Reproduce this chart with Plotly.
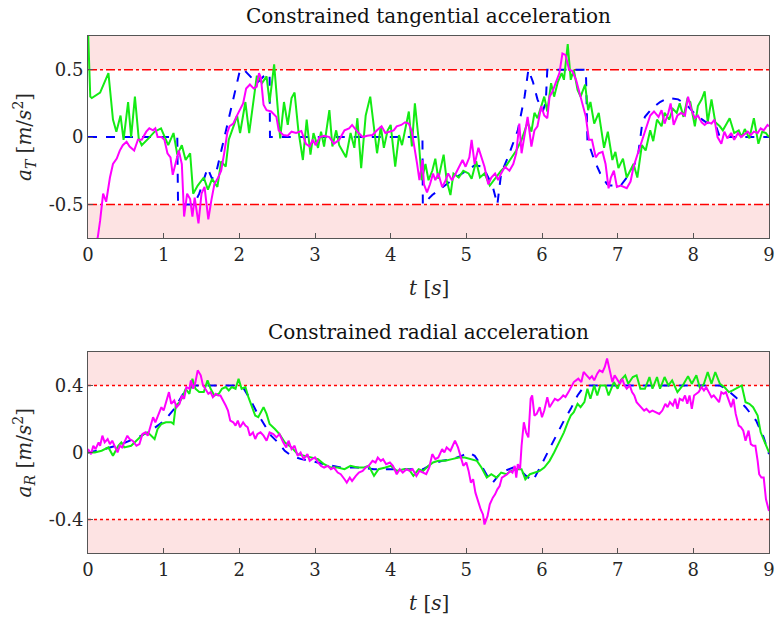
import plotly.graph_objects as go
from plotly.subplots import make_subplots

# ---------------- Tangential acceleration (top) ----------------
tT_green = [0, 0.03, 0.05, 0.16, 0.27, 0.33, 0.375, 0.43, 0.47, 0.53, 0.57, 0.62, 0.67, 0.71, 0.8, 0.88, 0.965, 1.01, 1.06, 1.13, 1.18, 1.24, 1.29, 1.35, 1.39, 1.45, 1.53, 1.585, 1.64, 1.71, 1.76, 1.82, 1.86, 1.93, 1.97, 2.01, 2.08, 2.13, 2.19, 2.23, 2.25, 2.30, 2.36, 2.40, 2.46, 2.50, 2.54, 2.59, 2.64, 2.69, 2.73, 2.78, 2.84, 2.89, 2.94, 2.98, 3.04, 3.08, 3.12, 3.19, 3.23, 3.28, 3.32, 3.41, 3.47, 3.52, 3.56, 3.61, 3.67, 3.73, 3.78, 3.82, 3.87, 3.91, 3.96, 4.0, 4.06, 4.11, 4.15, 4.19, 4.24, 4.28, 4.32, 4.37, 4.41, 4.46, 4.5, 4.55, 4.59, 4.63, 4.70, 4.74, 4.79, 4.83, 4.90, 4.96, 5.03, 5.07, 5.13, 5.18, 5.24, 5.31, 5.38, 5.46, 5.53, 5.59, 5.66, 5.73, 5.77, 5.81, 5.86, 5.9, 5.94, 5.99, 6.03, 6.07, 6.12, 6.16, 6.21, 6.26, 6.29, 6.34, 6.38, 6.42, 6.47, 6.51, 6.57, 6.61, 6.64, 6.69, 6.75, 6.82, 6.87, 6.93, 6.97, 7.01, 7.07, 7.12, 7.17, 7.21, 7.26, 7.32, 7.37, 7.43, 7.47, 7.52, 7.58, 7.62, 7.68, 7.73, 7.78, 7.82, 7.87, 7.92, 7.96, 8.02, 8.06, 8.11, 8.15, 8.19, 8.24, 8.29, 8.35, 8.39, 8.43, 8.48, 8.54, 8.6, 8.64, 8.68, 8.74, 8.8, 8.86, 8.91, 8.96, 9.0]
vT_green = [0.8, 0.3, 0.29, 0.33, 0.475, 0.13, 0.04, 0.16, -0.02, 0.26, 0.0, 0.30, -0.01, -0.06, -0.01, 0.04, 0.065, 0.0, -0.06, 0.03, -0.13, -0.06, -0.17, -0.12, -0.42, -0.36, -0.30, -0.39, -0.31, -0.37, -0.18, -0.22, -0.02, 0.09, 0.16, 0.03, 0.26, 0.03, 0.28, 0.45, 0.45, 0.40, 0.45, 0.26, 0.54, 0.28, -0.01, 0.26, 0.09, 0.29, 0.33, 0.05, -0.17, 0.13, -0.13, 0.03, -0.08, 0.04, -0.07, 0.20, -0.07, 0.05, -0.06, -0.15, 0.03, -0.08, 0.14, -0.23, 0.16, 0.30, 0.05, -0.12, 0.08, -0.08, 0.05, 0.09, -0.22, 0.015, -0.06, 0.05, 0.19, -0.07, 0.25, -0.02, -0.32, -0.20, -0.32, -0.25, -0.16, -0.31, -0.13, -0.32, -0.43, -0.27, -0.30, -0.25, -0.27, -0.31, -0.18, -0.30, -0.27, -0.36, -0.31, -0.25, -0.21, -0.16, -0.10, -0.02, 0.05, 0.11, 0.04, 0.18, 0.14, 0.24, 0.30, 0.19, 0.40, 0.30, 0.41, 0.475, 0.425, 0.69, 0.425, 0.50, 0.35, 0.30, 0.39, 0.20, 0.26, 0.10, 0.18, -0.08, 0.04, -0.17, -0.11, -0.23, -0.16, -0.30, -0.25, -0.20, -0.30, -0.06, -0.10, 0.05, -0.03, 0.13, 0.08, 0.18, 0.13, 0.21, 0.18, 0.25, 0.15, 0.28, 0.26, 0.08, 0.23, 0.28, 0.34, 0.11, 0.28, 0.11, 0.08, 0.05, 0.09, 0.14, 0.03, 0.05, 0.0, 0.06, -0.01, 0.14, -0.05, 0.04, 0.03, 0.0]

tT_blue = [0, 1.18, 1.19, 1.40, 1.47, 1.58, 1.64, 1.70, 2.01, 2.06, 2.23, 2.32, 2.40, 2.405, 4.42, 4.425, 4.55, 4.81, 5.11, 5.22, 5.29, 5.35, 5.41, 5.46, 5.55, 5.68, 5.77, 5.82, 5.88, 5.94, 6.01, 6.05, 6.07, 6.58, 6.60, 6.69, 6.77, 6.86, 6.9, 7.04, 7.12, 7.21, 7.27, 7.32, 7.36, 7.45, 7.56, 7.67, 7.8, 7.91, 8.04, 8.17, 8.3, 8.35, 9.0]
vT_blue = [0, 0, -0.5, -0.5, -0.42, -0.23, -0.31, -0.25, 0.5, 0.5, 0.40, 0.45, 0.47, 0.0, 0.0, -0.5, -0.43, -0.32, -0.21, -0.22, -0.30, -0.37, -0.5, -0.27, -0.15, 0.05, 0.30, 0.5, 0.41, 0.28, 0.19, 0.26, 0.5, 0.5, -0.02, -0.17, -0.27, -0.35, -0.36, -0.36, -0.30, -0.22, -0.13, 0.08, 0.15, 0.21, 0.26, 0.29, 0.28, 0.24, 0.16, 0.11, 0.08, 0.0, 0.0]

tT_mag = [0.05, 0.13, 0.16, 0.2, 0.24, 0.29, 0.33, 0.38, 0.42, 0.46, 0.51, 0.55, 0.61, 0.66, 0.71, 0.77, 0.81, 0.86, 0.89, 0.92, 0.97, 1.01, 1.05, 1.09, 1.12, 1.16, 1.20, 1.24, 1.27, 1.31, 1.35, 1.38, 1.41, 1.46, 1.50, 1.54, 1.59, 1.63, 1.67, 1.72, 1.76, 1.80, 1.84, 1.87, 1.92, 1.96, 2.00, 2.05, 2.09, 2.14, 2.19, 2.23, 2.26, 2.285, 2.32, 2.36, 2.42, 2.49, 2.52, 2.58, 2.64, 2.69, 2.75, 2.82, 2.88, 2.93, 2.97, 3.01, 3.06, 3.12, 3.19, 3.25, 3.32, 3.39, 3.45, 3.49, 3.56, 3.63, 3.69, 3.76, 3.82, 3.88, 3.93, 3.99, 4.04, 4.08, 4.14, 4.19, 4.24, 4.28, 4.32, 4.35, 4.38, 4.42, 4.44, 4.48, 4.52, 4.56, 4.59, 4.63, 4.68, 4.72, 4.76, 4.81, 4.86, 4.9, 4.95, 4.99, 5.04, 5.07, 5.11, 5.16, 5.2, 5.24, 5.29, 5.33, 5.38, 5.42, 5.46, 5.51, 5.57, 5.62, 5.66, 5.70, 5.73, 5.77, 5.81, 5.86, 5.9, 5.94, 5.99, 6.03, 6.07, 6.1, 6.14, 6.18, 6.23, 6.27, 6.31, 6.36, 6.40, 6.45, 6.49, 6.53, 6.58, 6.62, 6.66, 6.71, 6.75, 6.8, 6.84, 6.88, 6.91, 6.95, 6.99, 7.04, 7.08, 7.12, 7.17, 7.21, 7.25, 7.30, 7.34, 7.38, 7.43, 7.48, 7.54, 7.58, 7.62, 7.67, 7.70, 7.74, 7.79, 7.84, 7.89, 7.93, 7.97, 8.02, 8.06, 8.11, 8.15, 8.19, 8.24, 8.28, 8.32, 8.37, 8.41, 8.45, 8.5, 8.54, 8.59, 8.63, 8.67, 8.72, 8.76, 8.80, 8.85, 8.89, 8.93, 8.98, 9.0]
vT_mag = [-0.9, -0.74, -0.62, -0.42, -0.48, -0.30, -0.20, -0.16, -0.10, -0.06, -0.035, -0.07, -0.10, -0.02, -0.02, 0.04, 0.065, 0.05, 0.065, 0.0, 0.0, -0.02, -0.12, -0.15, -0.28, -0.20, -0.10, -0.20, -0.59, -0.42, -0.46, -0.59, -0.45, -0.64, -0.42, -0.37, -0.61, -0.47, -0.35, -0.30, -0.25, -0.12, 0.03, 0.08, 0.10, 0.15, 0.20, 0.25, 0.36, 0.39, 0.36, 0.375, 0.475, 0.44, 0.24, 0.20, 0.19, 0.15, 0.05, 0.015, 0.01, 0.04, 0.03, 0.045, -0.05, -0.07, -0.02, -0.06, 0.0, 0.01, 0.0, -0.05, -0.02, 0.05, 0.065, 0.09, 0.04, 0.0, 0.01, 0.015, 0.05, 0.08, 0.03, 0.04, 0.05, 0.08, 0.09, 0.11, 0.10, 0.04, -0.08, -0.20, -0.32, -0.17, -0.35, -0.41, -0.35, -0.27, -0.32, -0.27, -0.37, -0.33, -0.27, -0.32, -0.27, -0.23, -0.17, -0.22, -0.15, -0.02, -0.20, -0.08, -0.16, -0.22, -0.35, -0.30, -0.27, -0.32, -0.27, -0.22, -0.25, -0.20, -0.12, 0.10, -0.12, 0.03, 0.15, -0.07, 0.05, 0.08, 0.23, 0.16, 0.14, 0.30, 0.34, 0.40, 0.475, 0.62, 0.61, 0.50, 0.49, 0.425, 0.34, 0.26, 0.15, -0.02, -0.02, -0.15, -0.12, -0.11, -0.20, -0.38, -0.30, -0.25, -0.37, -0.36, -0.37, -0.38, -0.33, -0.22, -0.15, -0.06, 0.0, 0.08, 0.16, 0.19, 0.15, 0.20, 0.10, 0.18, 0.25, 0.09, 0.16, 0.18, 0.16, 0.30, 0.21, 0.14, 0.16, 0.11, 0.09, 0.11, 0.10, 0.13, 0.0, -0.05, 0.04, -0.01, 0.03, -0.02, 0.03, 0.0, 0.015, 0.04, 0.015, 0.04, 0.03, 0.065, 0.05, 0.09, 0.08]

# ---------------- Radial acceleration (bottom) ----------------
tR_green = [0, 0.09, 0.18, 0.27, 0.33, 0.40, 0.44, 0.48, 0.57, 0.66, 0.72, 0.79, 0.83, 0.88, 0.92, 0.97, 1.03, 1.10, 1.13, 1.16, 1.21, 1.25, 1.29, 1.34, 1.38, 1.42, 1.47, 1.53, 1.58, 1.62, 1.67, 1.73, 1.77, 1.82, 1.86, 1.90, 1.95, 1.99, 2.03, 2.08, 2.12, 2.17, 2.21, 2.25, 2.32, 2.36, 2.40, 2.47, 2.53, 2.6, 2.69, 2.77, 2.86, 2.95, 3.04, 3.12, 3.21, 3.30, 3.39, 3.47, 3.56, 3.65, 3.71, 3.78, 3.84, 3.93, 4.0, 4.08, 4.17, 4.24, 4.30, 4.37, 4.43, 4.5, 4.56, 4.63, 4.72, 4.81, 4.90, 4.98, 5.07, 5.14, 5.2, 5.27, 5.33, 5.4, 5.46, 5.53, 5.59, 5.66, 5.73, 5.78, 5.84, 5.90, 5.97, 6.03, 6.1, 6.16, 6.23, 6.29, 6.34, 6.38, 6.42, 6.47, 6.51, 6.56, 6.6, 6.64, 6.69, 6.73, 6.77, 6.84, 6.88, 6.95, 7.0, 7.04, 7.1, 7.14, 7.2, 7.25, 7.3, 7.36, 7.42, 7.46, 7.52, 7.56, 7.62, 7.67, 7.72, 7.79, 7.86, 7.93, 7.98, 8.04, 8.09, 8.14, 8.19, 8.24, 8.29, 8.35, 8.41, 8.47, 8.52, 8.59, 8.64, 8.69, 8.74, 8.79, 8.85, 8.89, 8.93, 8.97, 9.0]
vR_green = [0.0, 0.0, 0.01, 0.03, -0.02, 0.04, 0.06, 0.03, 0.04, 0.08, 0.105, 0.12, 0.10, 0.08, 0.14, 0.17, 0.18, 0.18, 0.17, 0.28, 0.30, 0.33, 0.38, 0.35, 0.44, 0.38, 0.36, 0.36, 0.43, 0.38, 0.34, 0.35, 0.38, 0.39, 0.37, 0.39, 0.38, 0.44, 0.38, 0.39, 0.33, 0.27, 0.22, 0.21, 0.27, 0.23, 0.17, 0.14, 0.11, 0.06, 0.03, -0.01, -0.02, -0.03, -0.04, -0.07, -0.09, -0.09, -0.10, -0.08, -0.09, -0.09, -0.08, -0.14, -0.10, -0.09, -0.08, -0.11, -0.10, -0.10, -0.14, -0.10, -0.11, -0.08, -0.06, -0.05, -0.05, -0.04, -0.03, -0.03, -0.04, -0.05, -0.09, -0.15, -0.13, -0.15, -0.12, -0.13, -0.11, -0.10, -0.10, -0.16, -0.13, -0.12, -0.11, -0.09, -0.05, 0.0, 0.06, 0.12, 0.18, 0.22, 0.24, 0.29, 0.27, 0.30, 0.38, 0.32, 0.40, 0.34, 0.40, 0.40, 0.34, 0.42, 0.38, 0.43, 0.46, 0.41, 0.45, 0.46, 0.38, 0.38, 0.45, 0.38, 0.45, 0.38, 0.45, 0.40, 0.43, 0.36, 0.40, 0.455, 0.41, 0.46, 0.38, 0.41, 0.48, 0.41, 0.48, 0.41, 0.39, 0.36, 0.37, 0.39, 0.40, 0.30, 0.29, 0.27, 0.22, 0.12, 0.08, 0.04, 0.0]

tR_blue = [0, 0.22, 0.44, 0.66, 0.83, 1.01, 1.14, 1.27, 1.40, 1.95, 2.06, 2.14, 2.23, 2.34, 2.42, 2.51, 2.6, 2.69, 2.82, 2.95, 3.12, 3.34, 3.56, 3.78, 4.0, 4.22, 4.43, 4.55, 4.68, 4.81, 4.94, 5.03, 5.11, 5.2, 5.29, 5.35, 5.42, 5.51, 5.62, 5.70, 5.79, 5.88, 5.94, 6.03, 6.12, 6.21, 6.29, 6.38, 6.47, 6.55, 6.62, 8.35, 8.43, 8.56, 8.69, 8.83, 8.93, 9.0]
vR_blue = [0.0, 0.02, 0.05, 0.09, 0.13, 0.19, 0.26, 0.36, 0.40, 0.40, 0.38, 0.32, 0.24, 0.16, 0.10, 0.06, 0.01, -0.02, -0.04, -0.05, -0.07, -0.09, -0.09, -0.10, -0.10, -0.10, -0.10, -0.07, -0.05, -0.04, -0.02, 0.0, -0.02, -0.08, -0.15, -0.18, -0.14, -0.11, -0.09, -0.10, -0.14, -0.17, -0.12, -0.04, 0.04, 0.12, 0.19, 0.26, 0.34, 0.39, 0.40, 0.40, 0.38, 0.33, 0.27, 0.19, 0.09, -0.01]

tR_mag = [0, 0.04, 0.07, 0.10, 0.14, 0.16, 0.19, 0.22, 0.26, 0.29, 0.32, 0.35, 0.39, 0.42, 0.45, 0.48, 0.52, 0.55, 0.59, 0.64, 0.68, 0.72, 0.76, 0.79, 0.82, 0.86, 0.89, 0.92, 0.97, 1.0, 1.04, 1.07, 1.10, 1.14, 1.17, 1.21, 1.24, 1.27, 1.30, 1.34, 1.36, 1.39, 1.42, 1.45, 1.49, 1.52, 1.55, 1.59, 1.62, 1.65, 1.69, 1.72, 1.75, 1.79, 1.82, 1.85, 1.88, 1.92, 1.95, 1.98, 2.01, 2.05, 2.08, 2.11, 2.14, 2.18, 2.21, 2.24, 2.28, 2.32, 2.36, 2.40, 2.45, 2.49, 2.53, 2.58, 2.62, 2.65, 2.69, 2.73, 2.77, 2.81, 2.85, 2.90, 2.93, 2.96, 3.0, 3.04, 3.08, 3.12, 3.17, 3.21, 3.25, 3.30, 3.34, 3.39, 3.42, 3.46, 3.49, 3.54, 3.58, 3.63, 3.67, 3.71, 3.76, 3.80, 3.83, 3.87, 3.9, 3.94, 3.99, 4.03, 4.08, 4.12, 4.16, 4.21, 4.25, 4.29, 4.34, 4.38, 4.42, 4.47, 4.51, 4.55, 4.59, 4.63, 4.68, 4.71, 4.74, 4.79, 4.82, 4.85, 4.89, 4.93, 4.96, 5.0, 5.03, 5.06, 5.09, 5.12, 5.16, 5.19, 5.22, 5.24, 5.28, 5.31, 5.35, 5.38, 5.41, 5.44, 5.47, 5.51, 5.54, 5.58, 5.61, 5.64, 5.66, 5.68, 5.71, 5.73, 5.76, 5.79, 5.82, 5.85, 5.87, 5.90, 5.93, 5.97, 6.0, 6.03, 6.07, 6.10, 6.13, 6.17, 6.21, 6.24, 6.28, 6.31, 6.35, 6.38, 6.42, 6.45, 6.48, 6.52, 6.55, 6.59, 6.63, 6.66, 6.69, 6.73, 6.76, 6.80, 6.83, 6.86, 6.9, 6.93, 6.96, 6.99, 7.03, 7.06, 7.09, 7.12, 7.16, 7.19, 7.22, 7.25, 7.29, 7.32, 7.35, 7.38, 7.42, 7.46, 7.51, 7.55, 7.59, 7.63, 7.66, 7.69, 7.73, 7.76, 7.79, 7.82, 7.86, 7.89, 7.92, 7.95, 7.98, 8.01, 8.04, 8.07, 8.11, 8.14, 8.17, 8.2, 8.24, 8.27, 8.30, 8.34, 8.37, 8.40, 8.43, 8.47, 8.5, 8.53, 8.56, 8.6, 8.63, 8.66, 8.69, 8.73, 8.76, 8.79, 8.82, 8.85, 8.87, 8.90, 8.93, 8.96, 8.98, 9.0]
vR_mag = [0.02, -0.01, 0.04, 0.02, 0.06, 0.04, 0.10, 0.06, 0.08, 0.05, 0.07, 0.04, 0.0, 0.04, 0.03, 0.06, 0.10, 0.08, 0.07, 0.04, 0.05, 0.11, 0.12, 0.10, 0.15, 0.21, 0.18, 0.21, 0.27, 0.25, 0.32, 0.36, 0.29, 0.31, 0.27, 0.29, 0.34, 0.32, 0.39, 0.38, 0.43, 0.38, 0.42, 0.49, 0.46, 0.40, 0.38, 0.35, 0.36, 0.33, 0.35, 0.34, 0.34, 0.31, 0.28, 0.25, 0.19, 0.18, 0.16, 0.19, 0.15, 0.18, 0.16, 0.15, 0.10, 0.12, 0.08, 0.11, 0.12, 0.10, 0.07, 0.12, 0.11, 0.09, 0.11, 0.06, 0.03, 0.07, 0.02, 0.04, -0.02, 0.0, -0.04, -0.01, -0.05, -0.04, -0.03, -0.06, -0.08, -0.09, -0.08, -0.10, -0.09, -0.12, -0.13, -0.16, -0.18, -0.15, -0.17, -0.14, -0.12, -0.11, -0.09, -0.08, -0.05, -0.06, -0.03, -0.05, -0.04, -0.07, -0.06, -0.08, -0.13, -0.10, -0.12, -0.10, -0.11, -0.10, -0.14, -0.11, -0.12, -0.13, -0.09, -0.01, -0.04, -0.03, 0.02, 0.0, 0.03, 0.01, 0.04, 0.07, 0.03, -0.04, -0.08, -0.06, -0.11, -0.18, -0.16, -0.24, -0.30, -0.34, -0.37, -0.43, -0.38, -0.31, -0.27, -0.25, -0.22, -0.20, -0.15, -0.14, -0.13, -0.11, -0.12, -0.08, -0.15, -0.07, -0.10, 0.04, 0.18, 0.12, 0.09, 0.32, 0.34, 0.22, 0.23, 0.27, 0.21, 0.25, 0.33, 0.27, 0.29, 0.32, 0.31, 0.32, 0.34, 0.33, 0.36, 0.39, 0.42, 0.43, 0.44, 0.42, 0.48, 0.46, 0.44, 0.455, 0.43, 0.47, 0.49, 0.48, 0.51, 0.56, 0.48, 0.42, 0.46, 0.44, 0.41, 0.44, 0.40, 0.38, 0.40, 0.36, 0.34, 0.30, 0.28, 0.27, 0.25, 0.26, 0.24, 0.25, 0.24, 0.23, 0.25, 0.29, 0.27, 0.30, 0.28, 0.32, 0.26, 0.32, 0.31, 0.34, 0.29, 0.34, 0.26, 0.34, 0.35, 0.36, 0.39, 0.37, 0.39, 0.36, 0.33, 0.34, 0.32, 0.30, 0.36, 0.35, 0.36, 0.31, 0.27, 0.32, 0.23, 0.16, 0.15, 0.13, 0.07, 0.13, 0.05, 0.04, 0.04, -0.05, -0.13, -0.15, -0.15, -0.28, -0.32, -0.35]

x_ticks = [0, 1, 2, 3, 4, 5, 6, 7, 8, 9]
yT_ticks = [-0.5, 0, 0.5]
yT_ticktext = ["-0.5", "0", "0.5"]
yR_ticks = [-0.4, 0, 0.4]
yR_ticktext = ["-0.4", "0", "0.4"]
T_limit = 0.5
R_limit = 0.4
T_range = [-0.75, 0.75]
R_range = [-0.6, 0.6]

GREEN = "rgb(20,235,20)"
MAG = "rgb(255,0,255)"
BLUE = "rgb(0,0,255)"
PINK = "rgb(253,227,227)"
FONT = "DejaVu Serif"

fig = make_subplots(rows=2, cols=1, vertical_spacing=0.22)

def add_series(row, t_b, v_b, t_g, v_g, t_m, v_m):
    fig.add_trace(go.Scatter(x=t_b, y=v_b, mode="lines",
                             line=dict(color=BLUE, width=2, dash="dash")), row=row, col=1)
    fig.add_trace(go.Scatter(x=t_g, y=v_g, mode="lines",
                             line=dict(color=GREEN, width=2)), row=row, col=1)
    fig.add_trace(go.Scatter(x=t_m, y=v_m, mode="lines",
                             line=dict(color=MAG, width=2)), row=row, col=1)

add_series(1, tT_blue, vT_blue, tT_green, vT_green, tT_mag, vT_mag)
add_series(2, tR_blue, vR_blue, tR_green, vR_green, tR_mag, vR_mag)

# Shaded regions and limit lines
for row, lim, rng, dash, xr, yr in [(1, T_limit, T_range, "dashdot", "x", "y"),
                                     (2, R_limit, R_range, "dot", "x2", "y2")]:
    fig.add_shape(type="rect", xref=xr, yref=yr, x0=0, x1=9, y0=lim, y1=rng[1],
                  fillcolor=PINK, line=dict(width=0), layer="below")
    fig.add_shape(type="rect", xref=xr, yref=yr, x0=0, x1=9, y0=rng[0], y1=-lim,
                  fillcolor=PINK, line=dict(width=0), layer="below")
    for v in (lim, -lim):
        fig.add_shape(type="line", xref=xr, yref=yr, x0=0, x1=9, y0=v, y1=v,
                      line=dict(color="red", width=1.5, dash=dash), layer="below")

axis_common = dict(showgrid=False, zeroline=False, showline=True, mirror=True,
                   linecolor="#555555", linewidth=1, ticks="inside", ticklen=5,
                   tickcolor="#555555", tickfont=dict(family=FONT, size=18, color="#262626"))
fig.update_xaxes(range=[0, 9], tickvals=x_ticks, **axis_common)
fig.update_yaxes(range=T_range, tickvals=yT_ticks, ticktext=yT_ticktext, row=1, col=1, **axis_common)
fig.update_yaxes(range=R_range, tickvals=yR_ticks, ticktext=yR_ticktext, row=2, col=1, **axis_common)

fig.update_layout(
    width=783, height=620,
    margin=dict(l=88, r=8, t=36, b=67),
    paper_bgcolor="white", plot_bgcolor="white",
    showlegend=False,
    font=dict(family=FONT, color="#262626"),
)
fig.update_layout(yaxis=dict(domain=[0.609, 1.0]), yaxis2=dict(domain=[0.0, 0.389]))

ann = []
ann.append(dict(text="Constrained tangential acceleration", x=0.5, y=1.0, yshift=20,
                xref="paper", yref="paper", showarrow=False, xanchor="center", yanchor="middle",
                font=dict(family=FONT, size=20, color="#111")))
ann.append(dict(text="Constrained radial acceleration", x=0.5, y=0.389, yshift=20,
                xref="paper", yref="paper", showarrow=False, xanchor="center", yanchor="middle",
                font=dict(family=FONT, size=20, color="#111")))
ann.append(dict(text="<i>t</i> [<i>s</i>]", x=0.5, y=0.609, yshift=-50,
                xref="paper", yref="paper", showarrow=False, xanchor="center", yanchor="middle",
                font=dict(family=FONT, size=20, color="#262626")))
ann.append(dict(text="<i>t</i> [<i>s</i>]", x=0.5, y=0.0, yshift=-50,
                xref="paper", yref="paper", showarrow=False, xanchor="center", yanchor="middle",
                font=dict(family=FONT, size=20, color="#262626")))
ann.append(dict(text="<i>a</i><sub><i>T</i></sub> [<i>m</i>/<i>s</i><sup>2</sup>]",
                x=-0.094, y=(0.609 + 1.0) / 2, xref="paper", yref="paper", showarrow=False,
                textangle=-90, xanchor="center", yanchor="middle",
                font=dict(family=FONT, size=20, color="#262626")))
ann.append(dict(text="<i>a</i><sub><i>R</i></sub> [<i>m</i>/<i>s</i><sup>2</sup>]",
                x=-0.094, y=0.389 / 2, xref="paper", yref="paper", showarrow=False,
                textangle=-90, xanchor="center", yanchor="middle",
                font=dict(family=FONT, size=20, color="#262626")))
fig.update_layout(annotations=ann)

fig.write_html("out.html")
